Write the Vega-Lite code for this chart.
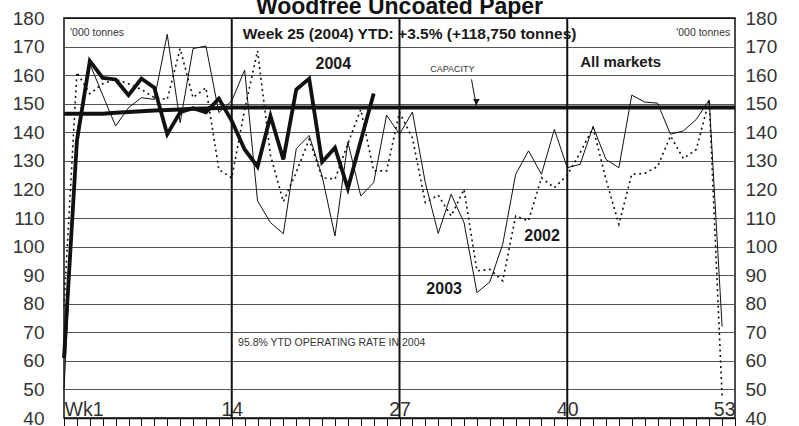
{
  "$schema": "https://vega.github.io/schema/vega-lite/v6.json",
  "width": 671,
  "height": 400,
  "autosize": {"type": "none"},
  "padding": {"left": 64, "top": 18, "right": 64, "bottom": 8},
  "background": "white",
  "config": {"view": {"stroke": "#111", "strokeWidth": 1.5}, "font": "Liberation Sans"},
  "title": {"text": "Woodfree Uncoated Paper", "fontSize": 23, "fontWeight": "bold", "font": "Liberation Sans", "anchor": "middle", "offset": 3, "dy": 13, "color": "#111"},
  "datasets": {
    "weekly": [
      {"week": 1, "cap": 146.5, "y2004": 61, "y2003": 50, "y2002": 79},
      {"week": 2, "cap": 146.5, "y2004": 137, "y2003": 140, "y2002": 161},
      {"week": 3, "cap": 146.5, "y2004": 165, "y2003": 164, "y2002": 153.5},
      {"week": 4, "cap": 146.5, "y2004": 159, "y2003": 153, "y2002": 157},
      {"week": 5, "cap": 146.8, "y2004": 158.5, "y2003": 142.2, "y2002": 158.5},
      {"week": 6, "cap": 147.1, "y2004": 153, "y2003": 148.6, "y2002": 157},
      {"week": 7, "cap": 147.4, "y2004": 158.8, "y2003": 152.1, "y2002": 155},
      {"week": 8, "cap": 147.6, "y2004": 155.6, "y2003": 151.5, "y2002": 152.1},
      {"week": 9, "cap": 147.8, "y2004": 139.3, "y2003": 174.3, "y2002": 151.5},
      {"week": 10, "cap": 148, "y2004": 147, "y2003": 143.4, "y2002": 169.3},
      {"week": 11, "cap": 148.2, "y2004": 148.4, "y2003": 169.3, "y2002": 152.1},
      {"week": 12, "cap": 148.3, "y2004": 147, "y2003": 170.2, "y2002": 155.6},
      {"week": 13, "cap": 148.5, "y2004": 151.8, "y2003": 146.9, "y2002": 127},
      {"week": 14, "cap": 148.7, "y2004": 144, "y2003": 151, "y2002": 124},
      {"week": 15, "cap": 148.7, "y2004": 134, "y2003": 161.8, "y2002": 148},
      {"week": 16, "cap": 148.7, "y2004": 128, "y2003": 116, "y2002": 168.5},
      {"week": 17, "cap": 148.7, "y2004": 145.7, "y2003": 108.4, "y2002": 132},
      {"week": 18, "cap": 148.7, "y2004": 130.5, "y2003": 104.5, "y2002": 115.7},
      {"week": 19, "cap": 148.7, "y2004": 155, "y2003": 134.3, "y2002": 126},
      {"week": 20, "cap": 148.7, "y2004": 158.8, "y2003": 138.9, "y2002": 137.5},
      {"week": 21, "cap": 148.7, "y2004": 129.6, "y2003": 124.7, "y2002": 124.1},
      {"week": 22, "cap": 148.7, "y2004": 134.6, "y2003": 103.7, "y2002": 123.6},
      {"week": 23, "cap": 148.7, "y2004": 120.3, "y2003": 136.6, "y2002": 136},
      {"week": 24, "cap": 148.7, "y2004": 137, "y2003": 117.7, "y2002": 148},
      {"week": 25, "cap": 148.7, "y2004": 153.6, "y2003": 122.4, "y2002": 126.5},
      {"week": 26, "cap": 148.7, "y2003": 146, "y2002": 126.5},
      {"week": 27, "cap": 148.7, "y2003": 139.3, "y2002": 147},
      {"week": 28, "cap": 148.7, "y2003": 147.1, "y2002": 138},
      {"week": 29, "cap": 148.7, "y2003": 122.4, "y2002": 115.4},
      {"week": 30, "cap": 148.7, "y2003": 104.6, "y2002": 118},
      {"week": 31, "cap": 148.7, "y2003": 118.3, "y2002": 110.7},
      {"week": 32, "cap": 148.7, "y2003": 108.4, "y2002": 120},
      {"week": 33, "cap": 148.7, "y2003": 83.9, "y2002": 91.5},
      {"week": 34, "cap": 148.7, "y2003": 87.6, "y2002": 92},
      {"week": 35, "cap": 148.7, "y2003": 100.8, "y2002": 88},
      {"week": 36, "cap": 148.7, "y2003": 125.3, "y2002": 110.7},
      {"week": 37, "cap": 148.7, "y2003": 133.5, "y2002": 109},
      {"week": 38, "cap": 148.7, "y2003": 125.3, "y2002": 124.1},
      {"week": 39, "cap": 148.7, "y2003": 141, "y2002": 120.6},
      {"week": 40, "cap": 148.7, "y2003": 127.6, "y2002": 125},
      {"week": 41, "cap": 148.7, "y2003": 128.8, "y2002": 132.9},
      {"week": 42, "cap": 148.7, "y2003": 142, "y2002": 141.6},
      {"week": 43, "cap": 148.7, "y2003": 130.5, "y2002": 123.5},
      {"week": 44, "cap": 148.7, "y2003": 127.6, "y2002": 107.8},
      {"week": 45, "cap": 148.7, "y2003": 153, "y2002": 125.3},
      {"week": 46, "cap": 148.7, "y2003": 150.6, "y2002": 125.6},
      {"week": 47, "cap": 148.7, "y2003": 150.2, "y2002": 128},
      {"week": 48, "cap": 148.7, "y2003": 139.3, "y2002": 138.7},
      {"week": 49, "cap": 148.7, "y2003": 140.5, "y2002": 130.8},
      {"week": 50, "cap": 148.7, "y2003": 144.5, "y2002": 134},
      {"week": 51, "cap": 148.7, "y2003": 151.3, "y2002": 151.3},
      {"week": 52, "cap": 148.7, "y2003": 72, "y2002": 47.7},
      {"week": 53, "cap": 148.7}
    ],
    "dividers": [{"week": 14}, {"week": 27}, {"week": 40}],
    "arrow": [{"w1": 32.58, "v1": 158.5, "w2": 32.96, "v2": 149}],
    "arrowHead": [{"week": 32.96, "value": 150.6}],
    "yearLabels": [
      {"week": 21.87, "value": 163.8, "label": "2004"},
      {"week": 38.05, "value": 103.7, "label": "2002"},
      {"week": 30.46, "value": 85, "label": "2003"}
    ],
    "marketLabel": [{"week": 41.0, "value": 164.7, "label": "All markets"}],
    "ytdLabel": [{"week": 14.85, "value": 174.5, "label": "Week 25 (2004) YTD: +3.5% (+118,750 tonnes)"}],
    "smallLeft": [
      {"week": 1.47, "value": 174.8, "label": "'000 tonnes"},
      {"week": 14.49, "value": 66.2, "label": "95.8% YTD OPERATING RATE IN 2004"}
    ],
    "smallRight": [{"week": 52.63, "value": 174.8, "label": "'000 tonnes"}],
    "capLabel": [{"week": 31.1, "value": 162.2, "label": "CAPACITY"}]
  },
  "layer": [
    {
      "data": {"name": "weekly"},
      "mark": {"type": "line", "color": "#111", "strokeWidth": 4},
      "encoding": {
        "x": {"field": "week", "type": "quantitative", "scale": {"domain": [1, 53], "nice": false, "zero": false},
          "axis": {"values": [1,2,3,4,5,6,7,8,9,10,11,12,13,14,15,16,17,18,19,20,21,22,23,24,25,26,27,28,29,30,31,32,33,34,35,36,37,38,39,40,41,42,43,44,45,46,47,48,49,50,51,52,53],
            "orient": "bottom", "grid": false, "domain": true, "domainColor": "#111", "domainWidth": 1.5,
            "ticks": true, "tickSize": 8, "tickColor": "#111", "tickWidth": 1,
            "labelExpr": "datum.value == 1 ? 'Wk1' : (datum.value == 14 || datum.value == 27 || datum.value == 40 || datum.value == 53) ? datum.label : ''",
            "labelFlush": true, "labelOverlap": false, "labelBound": false,
            "labelBaseline": "alphabetic", "labelPadding": -11, "labelFontSize": 19.5, "labelColor": "#333",
            "labelFont": "Liberation Sans", "title": null}},
        "y": {"field": "cap", "type": "quantitative", "scale": {"domain": [40, 180], "nice": false, "zero": false},
          "axis": {"values": [40,50,60,70,80,90,100,110,120,130,140,150,160,170,180], "orient": "left",
            "grid": true, "gridColor": {"condition": {"test": "datum.value == 40 || datum.value == 180", "value": "#111"}, "value": "#555"},
            "gridWidth": 1.2, "domain": false, "ticks": false, "labelFontSize": 19, "labelFont": "Liberation Sans",
            "labelColor": "#333", "labelPadding": 20, "title": null}}
      }
    },
    {
      "data": {"name": "weekly"},
      "mark": {"type": "line", "color": "#111", "strokeWidth": 1.6, "strokeDash": [2, 3.5]},
      "encoding": {
        "x": {"field": "week", "type": "quantitative", "scale": {"domain": [1, 53], "nice": false, "zero": false}, "axis": null},
        "y": {"field": "y2002", "type": "quantitative", "scale": {"domain": [40, 180], "nice": false, "zero": false}, "axis": null}
      }
    },
    {
      "data": {"name": "weekly"},
      "mark": {"type": "line", "color": "#111", "strokeWidth": 1},
      "encoding": {
        "x": {"field": "week", "type": "quantitative", "scale": {"domain": [1, 53], "nice": false, "zero": false}, "axis": null},
        "y": {"field": "y2003", "type": "quantitative", "scale": {"domain": [40, 180], "nice": false, "zero": false}, "axis": null}
      }
    },
    {
      "data": {"name": "weekly"},
      "mark": {"type": "line", "color": "#111", "strokeWidth": 3.8},
      "encoding": {
        "x": {"field": "week", "type": "quantitative", "scale": {"domain": [1, 53], "nice": false, "zero": false}, "axis": null},
        "y": {"field": "y2004", "type": "quantitative", "scale": {"domain": [40, 180], "nice": false, "zero": false}, "axis": null}
      }
    },
    {
      "data": {"name": "dividers"},
      "mark": {"type": "rule", "color": "#111", "strokeWidth": 2},
      "encoding": {
        "x": {"field": "week", "type": "quantitative", "scale": {"domain": [1, 53], "nice": false, "zero": false}, "axis": null}
      }
    },
    {
      "data": {"name": "arrow"},
      "mark": {"type": "rule", "color": "#111", "strokeWidth": 1},
      "encoding": {
        "x": {"field": "w1", "type": "quantitative", "scale": {"domain": [1, 53], "nice": false, "zero": false}, "axis": null},
        "x2": {"field": "w2"},
        "y": {"field": "v1", "type": "quantitative", "scale": {"domain": [40, 180], "nice": false, "zero": false}, "axis": null},
        "y2": {"field": "v2"}
      }
    },
    {
      "data": {"name": "arrowHead"},
      "mark": {"type": "point", "shape": "triangle-down", "filled": true, "color": "#111", "size": 45, "opacity": 1},
      "encoding": {
        "x": {"field": "week", "type": "quantitative", "scale": {"domain": [1, 53], "nice": false, "zero": false}, "axis": null},
        "y": {"field": "value", "type": "quantitative", "scale": {"domain": [40, 180], "nice": false, "zero": false}, "axis": null}
      }
    },
    {
      "data": {"name": "yearLabels"},
      "mark": {"type": "text", "font": "Liberation Sans", "fontWeight": "bold", "fontSize": 16, "align": "center", "baseline": "middle", "color": "#1a1a1a"},
      "encoding": {
        "x": {"field": "week", "type": "quantitative", "scale": {"domain": [1, 53], "nice": false, "zero": false}, "axis": null},
        "y": {"field": "value", "type": "quantitative", "scale": {"domain": [40, 180], "nice": false, "zero": false},
          "axis": {"values": [40,50,60,70,80,90,100,110,120,130,140,150,160,170,180], "orient": "right", "grid": false,
            "domain": false, "ticks": false, "labelFontSize": 19, "labelFont": "Liberation Sans", "labelColor": "#333",
            "labelPadding": 10, "title": null}},
        "text": {"field": "label"}
      }
    },
    {
      "data": {"name": "marketLabel"},
      "mark": {"type": "text", "font": "Liberation Sans", "fontWeight": "bold", "fontSize": 15, "align": "left", "baseline": "middle", "color": "#1a1a1a"},
      "encoding": {
        "x": {"field": "week", "type": "quantitative", "scale": {"domain": [1, 53], "nice": false, "zero": false}, "axis": null},
        "y": {"field": "value", "type": "quantitative", "scale": {"domain": [40, 180], "nice": false, "zero": false}, "axis": null},
        "text": {"field": "label"}
      }
    },
    {
      "data": {"name": "ytdLabel"},
      "mark": {"type": "text", "font": "Liberation Sans", "fontWeight": "bold", "fontSize": 15.5, "align": "left", "baseline": "middle", "color": "#1a1a1a"},
      "encoding": {
        "x": {"field": "week", "type": "quantitative", "scale": {"domain": [1, 53], "nice": false, "zero": false}, "axis": null},
        "y": {"field": "value", "type": "quantitative", "scale": {"domain": [40, 180], "nice": false, "zero": false}, "axis": null},
        "text": {"field": "label"}
      }
    },
    {
      "data": {"name": "smallLeft"},
      "mark": {"type": "text", "font": "Liberation Sans", "fontSize": 10.5, "align": "left", "baseline": "middle", "color": "#333"},
      "encoding": {
        "x": {"field": "week", "type": "quantitative", "scale": {"domain": [1, 53], "nice": false, "zero": false}, "axis": null},
        "y": {"field": "value", "type": "quantitative", "scale": {"domain": [40, 180], "nice": false, "zero": false}, "axis": null},
        "text": {"field": "label"}
      }
    },
    {
      "data": {"name": "smallRight"},
      "mark": {"type": "text", "font": "Liberation Sans", "fontSize": 10.5, "align": "right", "baseline": "middle", "color": "#333"},
      "encoding": {
        "x": {"field": "week", "type": "quantitative", "scale": {"domain": [1, 53], "nice": false, "zero": false}, "axis": null},
        "y": {"field": "value", "type": "quantitative", "scale": {"domain": [40, 180], "nice": false, "zero": false}, "axis": null},
        "text": {"field": "label"}
      }
    },
    {
      "data": {"name": "capLabel"},
      "mark": {"type": "text", "font": "Liberation Sans", "fontSize": 9, "align": "center", "baseline": "middle", "color": "#333"},
      "encoding": {
        "x": {"field": "week", "type": "quantitative", "scale": {"domain": [1, 53], "nice": false, "zero": false}, "axis": null},
        "y": {"field": "value", "type": "quantitative", "scale": {"domain": [40, 180], "nice": false, "zero": false}, "axis": null},
        "text": {"field": "label"}
      }
    }
  ],
  "resolve": {"axis": {"x": "independent", "y": "independent"}}
}
